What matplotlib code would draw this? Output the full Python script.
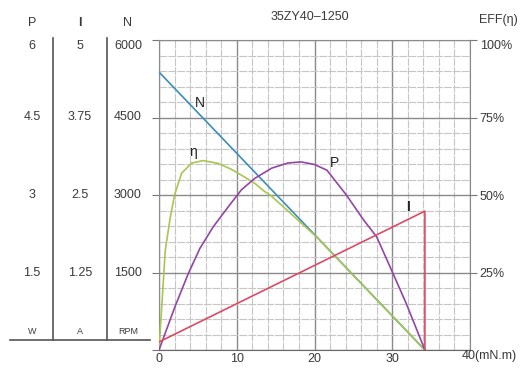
import numpy as np
import matplotlib.pyplot as plt
from matplotlib.lines import Line2D
from matplotlib import transforms

plt.rcParams['font.family'] = ['Liberation Sans', 'DejaVu Sans']

# curve data (torque in mN.m)
torque_n = [0, 34.2]
speed = [5380, 0]

torque_i = [0, 34.2, 34.2]
current = [0.13, 2.24, 0]

torque_p = [0, 2.06, 3.77, 5.27, 7.0, 8.9, 10.6, 12.3, 14.5, 16.6, 18.3, 20.0,
            21.6, 24.1, 26.3, 28.0, 30.1, 31.8, 34.2]
power = [0, 0.84, 1.48, 1.97, 2.39, 2.77, 3.10, 3.32, 3.52, 3.62, 3.64, 3.59,
         3.48, 3.00, 2.52, 2.19, 1.48, 0.90, 0]

torque_e = [0, 0.2, 0.43, 0.8, 1.4, 2.0, 2.9, 4.2, 5.7, 7.6, 9.3, 11.0, 12.3,
            13.6, 14.3, 17.0, 20.3, 34.2]
eff = [0, 8, 17, 32, 42, 50, 57, 60.3, 61.1, 60.2, 58.3, 55.8, 53.8,
       51.1, 50.0, 43.9, 36.4, 0]

p_ticks = [1.5, 3, 4.5, 6]
p_labels = ['1.5', '3', '4.5', '6']
i_ticks = [1.25, 2.5, 3.75, 5]
i_labels = ['1.25', '2.5', '3.75', '5']
n_ticks = [1500, 3000, 4500, 6000]
n_labels = ['1500', '3000', '4500', '6000']
eff_ticks = [25, 50, 75, 100]
eff_labels = ['25%', '50%', '75%', '100%']
x_ticks = [0, 10, 20, 30, 40]
x_labels = ['0', '10', '20', '30', '']

W, H = 526, 375
def fx(px):
    return px / W
def fy(py):
    return 1 - py / H

txt = '#3a3a3a'
fig = plt.figure(figsize=(W / 100, H / 100), dpi=100)

ax = fig.add_axes([fx(159), fy(350), 311 / W, 310 / H])
ax.set_xlim(0, 40)
ax.set_ylim(0, 6000)
ax.set_xticks(x_ticks)
ax.set_xticklabels(x_labels)
ax.set_xticks(np.arange(0, 41, 2), minor=True)
ax.set_yticks([0] + n_ticks)
ax.set_yticks(np.arange(0, 6001, 300), minor=True)
ax.grid(which='major', color='#8a8a8a', lw=1.0)
ax.grid(which='minor', color='#c6c6c6', lw=0.8, ls=(0, (7, 1)))
ax.tick_params(which='minor', length=0)
ax.tick_params(axis='x', which='major', length=0, pad=2, labelsize=9, labelcolor=txt)
ax.tick_params(axis='y', which='major', length=5, color='#777777', labelleft=False)
for s in ax.spines.values():
    s.set_color('#8a8a8a')
ax.spines['bottom'].set_color('#666666')

# efficiency axis on the right
ax_e = ax.twinx()
ax_e.set_ylim(0, 100)
ax_e.set_yticks(eff_ticks)
ax_e.set_yticklabels(eff_labels)
ax_e.tick_params(axis='y', length=5, color='#777777', pad=2, labelsize=9, labelcolor=txt)
for s in ax_e.spines.values():
    s.set_visible(False)
ax_e.get_yticklabels()[-1].set_va('top')

# hidden axes for power and current scales
ax_p = ax.twinx()
ax_p.set_ylim(0, 6)
ax_p.axis('off')
ax_i = ax.twinx()
ax_i.set_ylim(0, 5)
ax_i.axis('off')

ax.plot(torque_n, speed, color='#3b8dbd', lw=1.2, zorder=3)
ax_e.plot(torque_e, eff, color='#a8c650', lw=1.2)
ax_p.plot(torque_p, power, color='#9345a6', lw=1.2)
ax_i.plot(torque_i, current, color='#dc4a64', lw=1.2)

ax.text(5.3, 4780, 'N', fontsize=10, color='#222222', ha='center', va='center')
ax_e.text(4.4, 63.8, 'η', fontsize=10, color='#222222', ha='center', va='center')
ax_p.text(22.6, 3.62, 'P', fontsize=10, color='#222222', ha='center', va='center')
ax_i.text(32.0, 2.3, 'I', fontsize=10, fontweight='bold', color='#222222',
          ha='center', va='center')

# left scale columns
cols = [(32, ax_p, p_ticks, p_labels, 'P', 'W', 'normal'),
        (80, ax_i, i_ticks, i_labels, 'I', 'A', 'bold'),
        (128, ax, n_ticks, n_labels, 'N', 'RPM', 'normal')]
for xpx, a, ticks, labels, head, unit, wt in cols:
    tf = transforms.blended_transform_factory(fig.transFigure, a.transData)
    for k, (v, lab) in enumerate(zip(ticks, labels)):
        va = 'top' if k == len(ticks) - 1 else 'center'
        fig.text(fx(xpx), v, lab, transform=tf, ha='center', va=va, fontsize=9, color=txt)
    fig.text(fx(xpx), fy(23), head, ha='center', va='center', fontsize=9,
             fontweight=wt, color=txt)
    fig.text(fx(xpx), fy(331), unit, ha='center', va='center', fontsize=6.5, color=txt)

for xpx in [53, 107]:
    fig.add_artist(Line2D([fx(xpx), fx(xpx)], [fy(38), fy(340)], color='#555555', lw=1.2))
fig.add_artist(Line2D([fx(10), fx(150)], [fy(340), fy(340)], color='#555555', lw=1.2))

fig.text(fx(310), fy(17), '35ZY40–1250', ha='center', va='center', fontsize=9, color=txt)
fig.text(fx(498), fy(20), 'EFF(η)', ha='center', va='center', fontsize=9, color=txt)
fig.text(fx(462), fy(356), '40(mN.m)', ha='left', va='center', fontsize=9, color=txt)

fig.savefig('out.png', dpi=100)
